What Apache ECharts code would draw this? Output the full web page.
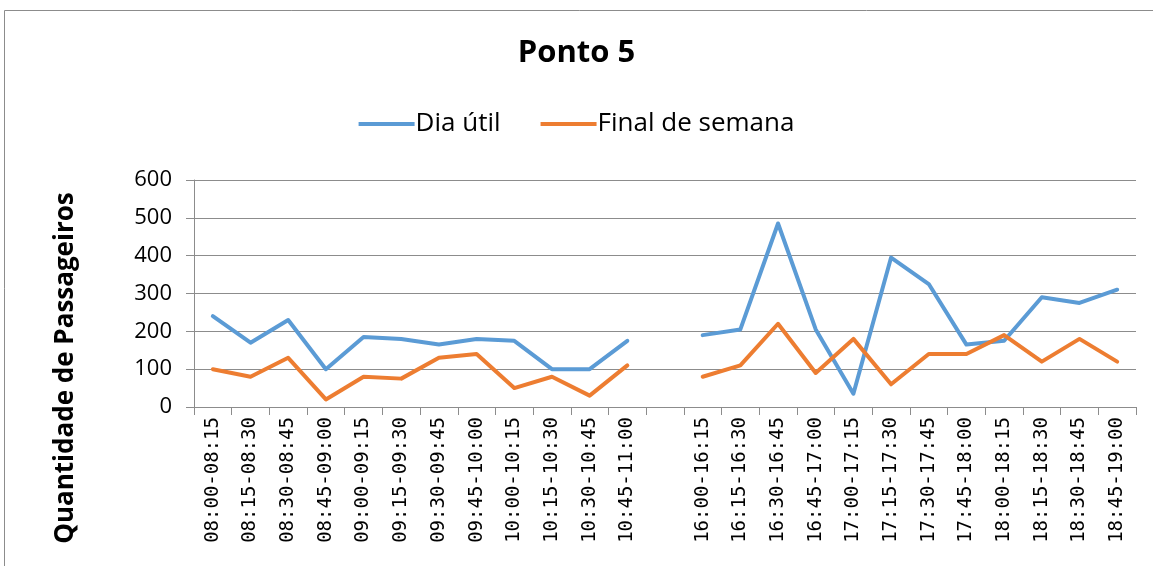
<!DOCTYPE html>
<html>
<head>
<meta charset="utf-8">
<script src="https://cdn.jsdelivr.net/npm/echarts@6/dist/echarts.min.js"></script>
<style>
    html, body {margin: 0; padding: 0; background: #fff;}
    #ponto5 {width: 1153px; height: 566px;}
</style>
</head>
<body>
<div id="ponto5"></div>
<script>
// faixas horarias (a vazia separa manha e tarde)
var horarios = ['08:00-08:15', '08:15-08:30', '08:30-08:45', '08:45-09:00', '09:00-09:15', '09:15-09:30',
    '09:30-09:45', '09:45-10:00', '10:00-10:15', '10:15-10:30', '10:30-10:45', '10:45-11:00', '',
    '16:00-16:15', '16:15-16:30', '16:30-16:45', '16:45-17:00', '17:00-17:15', '17:15-17:30',
    '17:30-17:45', '17:45-18:00', '18:00-18:15', '18:15-18:30', '18:30-18:45', '18:45-19:00'];

var diaUtil = [240, 170, 230, 100, 185, 180, 165, 180, 175, 100, 100, 175, null,
    190, 205, 485, 205, 35, 395, 325, 165, 175, 290, 275, 310];

var finalSemana = [100, 80, 130, 20, 80, 75, 130, 140, 50, 80, 30, 110, null,
    80, 110, 220, 90, 180, 60, 140, 140, 190, 120, 180, 120];

var yTicks = [0, 100, 200, 300, 400, 500, 600];

var fonte = '"Open Sans", "Noto Sans", sans-serif';

var myChart = echarts.init(document.getElementById('ponto5'));

var option = {
    animation: false,
    backgroundColor: '#fff',
    textStyle: {fontFamily: fonte},
    title: {
        text: 'Ponto 5',
        left: 'center',
        top: 33,
        textStyle: {fontSize: 31, fontWeight: 'bold', color: '#000', fontFamily: fonte}
    },
    legend: {
        data: ['Dia útil', 'Final de semana'],
        top: 106,
        left: 'center',
        itemWidth: 56,
        itemHeight: 4,
        itemGap: 40,
        icon: 'rect',
        textStyle: {fontSize: 26, color: '#000', fontFamily: fonte, padding: [0, 0, 0, -4]}
    },
    graphic: [
        {
            type: 'rect',
            shape: {x: 4.5, y: 10.5, width: 1160, height: 570},
            style: {fill: 'none', stroke: '#8c8c8c', lineWidth: 1},
            silent: true
        },
        {
            type: 'text',
            x: 66,
            y: 368,
            rotation: Math.PI / 2,
            style: {
                text: 'Quantidade de Passageiros',
                fontSize: 26,
                fontWeight: 'bold',
                fill: '#000',
                fontFamily: fonte,
                align: 'center',
                verticalAlign: 'middle'
            }
        }
    ],
    grid: {left: 194, right: 17, top: 180, bottom: 159, containLabel: false},
    xAxis: {
        type: 'category',
        data: horarios,
        boundaryGap: true,
        axisLine: {lineStyle: {color: '#8c8c8c', width: 1}},
        axisTick: {show: true, length: 8, interval: 0, lineStyle: {color: '#8c8c8c'}},
        axisLabel: {
            interval: 0,
            rotate: 90,
            fontSize: 19,
            color: '#000',
            margin: 10,
            fontFamily: '"DejaVu Sans Mono", monospace'
        },
        splitLine: {show: false}
    },
    yAxis: {
        type: 'value',
        min: yTicks[0],
        max: yTicks[yTicks.length - 1],
        interval: 100,
        axisLine: {show: true, lineStyle: {color: '#8c8c8c', width: 1}},
        axisTick: {show: true, length: 8, lineStyle: {color: '#8c8c8c'}},
        axisLabel: {fontSize: 22, color: '#000', margin: 22, fontFamily: fonte},
        splitLine: {show: true, lineStyle: {color: '#8c8c8c', width: 1}}
    },
    series: [
        {
            name: 'Dia útil',
            type: 'line',
            data: diaUtil,
            connectNulls: false,
            showSymbol: false,
            symbol: 'none',
            itemStyle: {color: '#5b9bd5'},
            lineStyle: {color: '#5b9bd5', width: 4, cap: 'round', join: 'round'}
        },
        {
            name: 'Final de semana',
            type: 'line',
            data: finalSemana,
            connectNulls: false,
            showSymbol: false,
            symbol: 'none',
            itemStyle: {color: '#ed7d31'},
            lineStyle: {color: '#ed7d31', width: 4, cap: 'round', join: 'round'}
        }
    ]
};

myChart.setOption(option);
</script>
</body>
</html>
